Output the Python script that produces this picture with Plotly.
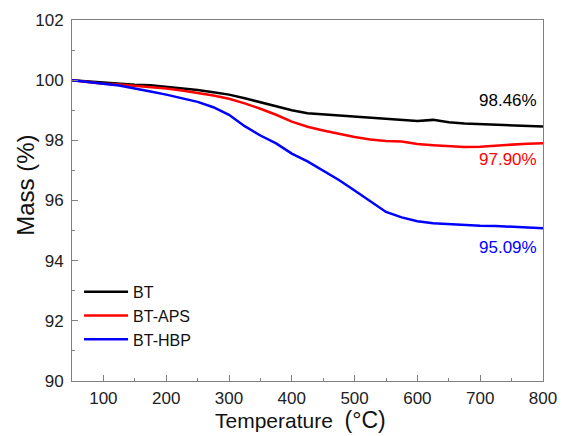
import plotly.graph_objects as go

temperature = [50, 75, 100, 125, 150, 175, 200, 225, 250, 275, 300, 325, 350, 375, 400,
               425, 450, 475, 500, 525, 550, 575, 600, 625, 650, 675, 700, 725, 750, 775, 800]
mass_bt = [100.00, 99.96, 99.91, 99.87, 99.85, 99.83, 99.78, 99.73, 99.67, 99.60, 99.52,
           99.40, 99.26, 99.13, 99.00, 98.90, 98.86, 98.82, 98.78, 98.76, 98.72, 98.68,
           98.64, 98.68, 98.60, 98.56, 98.54, 98.51, 98.50, 98.48, 98.46]
mass_aps = [100.00, 99.93, 99.88, 99.86, 99.82, 99.78, 99.72, 99.66, 99.58, 99.49, 99.38,
            99.23, 99.05, 98.85, 98.62, 98.45, 98.33, 98.22, 98.11, 98.03, 97.98, 97.96,
            97.88, 97.84, 97.80, 97.78, 97.79, 97.83, 97.87, 97.89, 97.90]
mass_hbp = [100.00, 99.95, 99.88, 99.82, 99.73, 99.62, 99.52, 99.40, 99.28, 99.10, 98.85,
            98.47, 98.16, 97.90, 97.56, 97.30, 97.00, 96.68, 96.33, 95.98, 95.62, 95.44,
            95.31, 95.24, 95.21, 95.18, 95.16, 95.15, 95.13, 95.10, 95.08]
series_names = ["BT", "BT-APS", "BT-HBP"]
end_labels = ["98.46%", "97.90%", "95.09%"]
label_y = [99.31, 97.36, 94.44]
colors = ["#000000", "#ff0000", "#0000ff"]
x_title = "Temperature  <span style='font-size:23px'>(°C)</span>"
y_title = "Mass (%)"

FONT = "Liberation Sans, Arial, sans-serif"
fig = go.Figure()
for name, ys, c in zip(series_names, [mass_bt, mass_aps, mass_hbp], colors):
    fig.add_trace(go.Scatter(x=temperature, y=ys, mode="lines", name=name,
                             line=dict(color=c, width=2.5)))

for txt, yv, c in zip(end_labels, label_y, colors):
    fig.add_annotation(x=794, y=yv, text=txt, showarrow=False, xanchor="right",
                       yanchor="middle", font=dict(family=FONT, size=17, color=c))

# axis titles
fig.add_annotation(xref="paper", yref="paper", x=0.485, y=-0.108, text=x_title,
                   showarrow=False, xanchor="center", yanchor="middle",
                   font=dict(family=FONT, size=21, color="#111"))
fig.add_annotation(xref="paper", yref="paper", x=-0.098, y=0.543, text=y_title,
                   showarrow=False, xanchor="center", yanchor="middle", textangle=-90,
                   font=dict(family=FONT, size=24, color="#111"))

axis_common = dict(showline=True, linecolor="#808080", linewidth=1, mirror=True,
                   ticks="inside", tickcolor="#808080", ticklen=6, showgrid=False,
                   zeroline=False, automargin=False,
                   tickfont=dict(family=FONT, size=17, color="#222"))
fig.update_xaxes(range=[50, 800], tick0=0, dtick=100,
                 minor=dict(ticks="inside", dtick=50, tick0=0, ticklen=3, tickcolor="#808080"),
                 ticklabelstandoff=2,
                 **axis_common)
fig.update_yaxes(range=[90, 102], tick0=90, dtick=2,
                 minor=dict(ticks="inside", dtick=1, tick0=90, ticklen=3, tickcolor="#808080"),
                 ticklabelstandoff=4,
                 **axis_common)
fig.update_layout(width=562, height=436, margin=dict(l=72, r=19, t=20, b=55),
                  plot_bgcolor="white", paper_bgcolor="white",
                  legend=dict(x=0.015, y=0.294, xanchor="left", yanchor="top",
                              bgcolor="rgba(0,0,0,0)", tracegroupgap=0, itemwidth=44,
                              font=dict(family=FONT, size=16, color="#111")))
fig.write_html("out.html")
